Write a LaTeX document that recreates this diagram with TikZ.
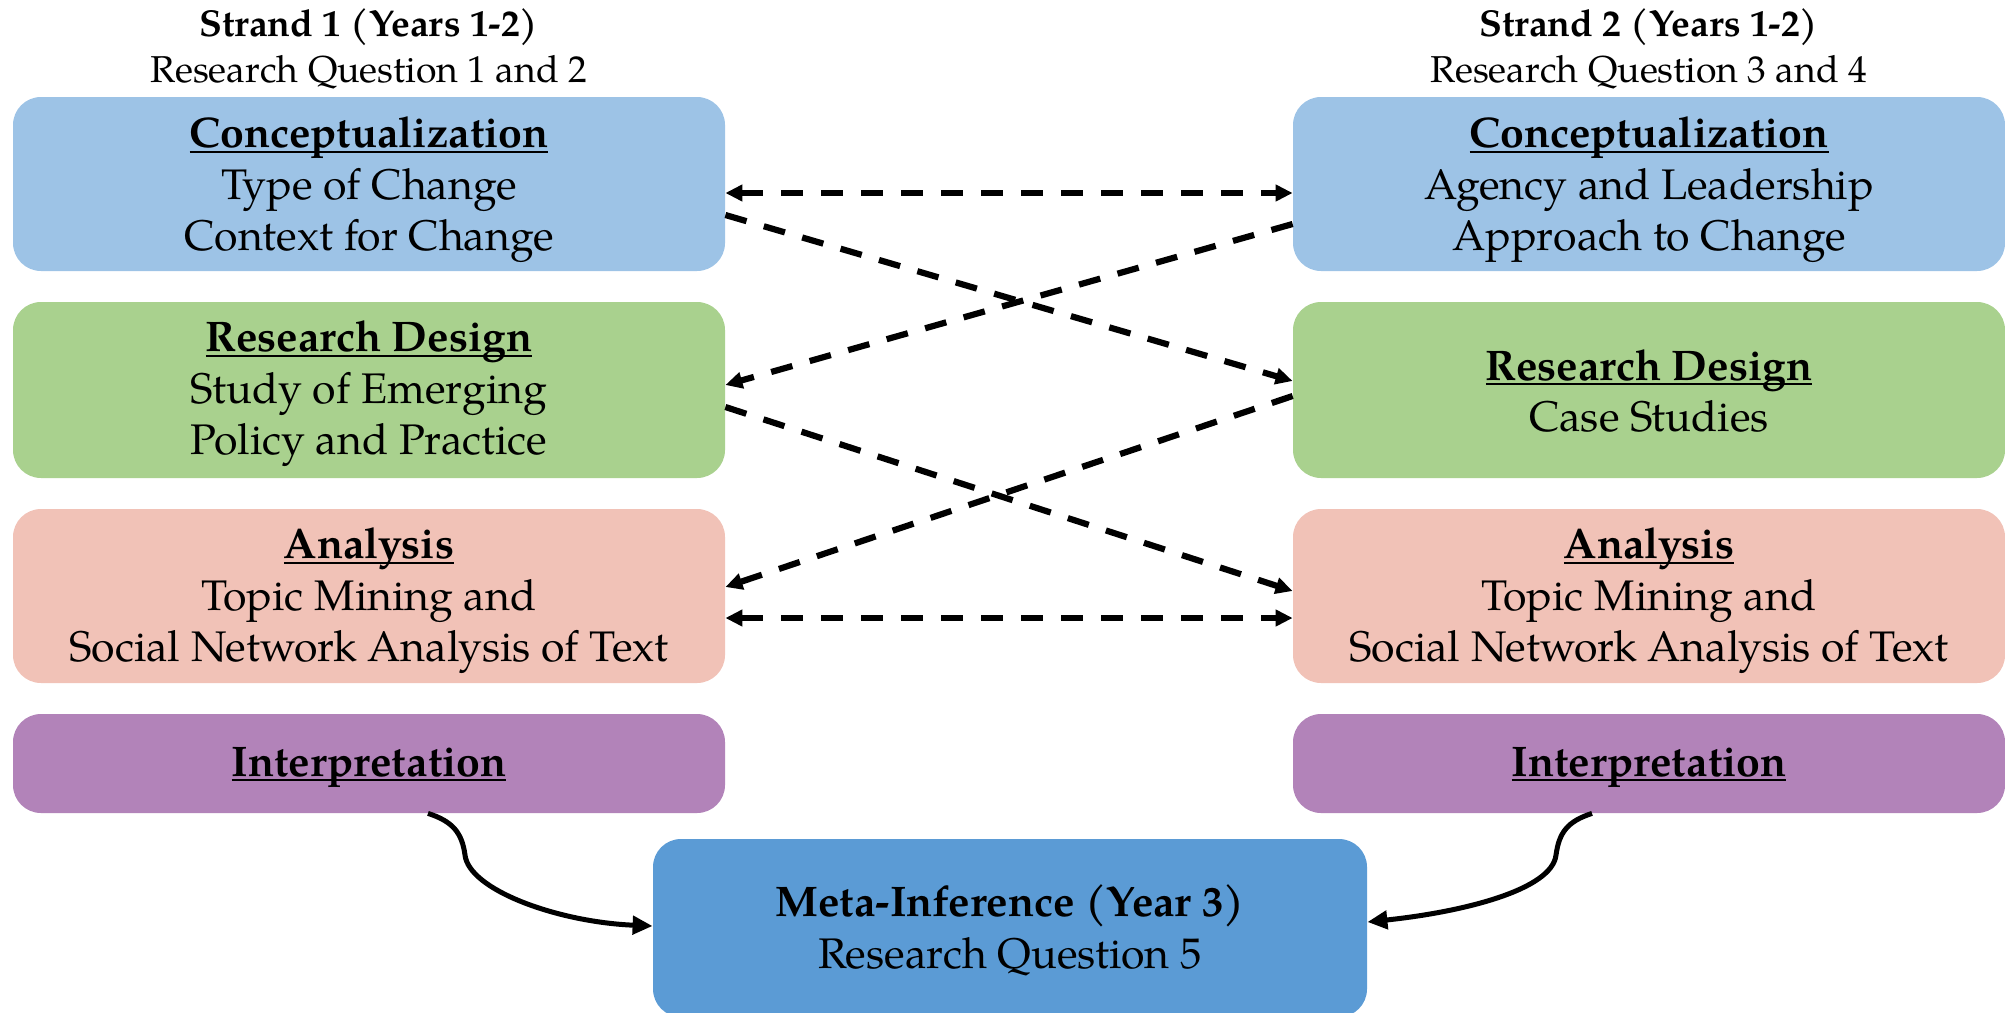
\documentclass[tikz,border=0pt]{standalone}
\usepackage{fontspec}
\setmainfont{texgyrepagella}[Extension=.otf,UprightFont=*-regular,BoldFont=*-bold,ItalicFont=*-italic,BoldItalicFont=*-bolditalic]
\usetikzlibrary{arrows.meta,calc}
\definecolor{cblue}{HTML}{9DC3E6}
\definecolor{cgreen}{HTML}{A9D18E}
\definecolor{cpink}{HTML}{F1C2B7}
\definecolor{cpurple}{HTML}{B283B9}
\definecolor{cmeta}{HTML}{5B9BD5}
\tikzset{
  box/.style={rounded corners=14pt, minimum width=356pt, align=center, inner sep=0pt,
    font=\fontsize{21.4}{25.8}\selectfont},
  hd/.style={font=\fontsize{18.7}{22}\selectfont, align=center, inner sep=0pt},
  dasharrow/.style={line width=3.1pt, dash pattern=on 11pt off 9pt,
    -{Triangle[length=8.5pt,width=8pt]}},
  dashboth/.style={line width=3.1pt, dash pattern=on 11pt off 9pt,
    {Triangle[length=8.5pt,width=8pt]}-{Triangle[length=8.5pt,width=8pt]}},
  curvarrow/.style={line width=2.5pt, -{Triangle[length=10pt,width=9pt]}}
}
\newcommand{\hdg}[1]{{\bfseries\setbox0\hbox{#1}\rlap{\rule[-2.6pt]{\wd0}{1.1pt}}\box0}}
\begin{document}
\begin{tikzpicture}[x=0.5pt,y=-0.5pt]
\useasboundingbox (0,0) rectangle (2005,1012);
\clip (0,0) rectangle (2005,1012);
% strand headings
\node[hd] (s1a) at (369,27) {\textbf{Strand 1 (Years 1-2)}};
\node[hd] (s1b) at (369,72) {Research Question 1 and 2};
\node[hd] (s2a) at (1649,27) {\textbf{Strand 2 (Years 1-2)}};
\node[hd] (s2b) at (1649,72) {Research Question 3 and 4};
% boxes
\node[box, fill=cblue, minimum height=87pt] (L1) at (369,184) {};
\node[box, fill=cblue, minimum height=87pt] (R1) at (1649,184) {};
\node[box, fill=cgreen, minimum height=88pt] (L2) at (369,390) {};
\node[box, fill=cgreen, minimum height=88pt] (R2) at (1649,390) {};
\node[box, fill=cpink, minimum height=87pt] (L3) at (369,596) {};
\node[box, fill=cpink, minimum height=87pt] (R3) at (1649,596) {};
\node[box, fill=cpurple, minimum height=49.5pt] (L4) at (369,763.5) {};
\node[box, fill=cpurple, minimum height=49.5pt] (R4) at (1649,763.5) {};
\node[box, fill=cmeta, minimum width=357pt, minimum height=89pt] (M) at (1010,928) {};
% texts
\node[box, anchor=center] (L1t) at (369,190) {\hdg{Conceptualization}\\Type of Change\\Context for Change};
\node[box, anchor=center] (R1t) at (1649,190) {\hdg{Conceptualization}\\Agency and Leadership\\Approach to Change};
\node[box, anchor=center] (L2t) at (369,394) {\hdg{Research Design}\\Study of Emerging\\Policy and Practice};
\node[box, anchor=center] (R2t) at (1649,391) {\hdg{Research Design}\\Case Studies};
\node[box, anchor=center] (L3t) at (369,601) {\hdg{Analysis}\\Topic Mining and\\Social Network Analysis of Text};
\node[box, anchor=center] (R3t) at (1649,601) {\hdg{Analysis}\\Topic Mining and\\Social Network Analysis of Text};
\node[box, anchor=center] (L4t) at (369,767) {\hdg{Interpretation}};
\node[box, anchor=center] (R4t) at (1649,767) {\hdg{Interpretation}};
\node[box, anchor=center] (Mt) at (1010,930) {\textbf{Meta-Inference (Year 3)}\\Research Question 5};
% dashed connectors
\draw[dashboth] ([yshift=-4.5pt]L1.east) -- ([yshift=-4.5pt]R1.west);
\draw[dasharrow] ([yshift=-15.5pt]L1.east) -- ([yshift=4.5pt]R2.west);
\draw[dasharrow] ([yshift=-20pt]R1.west) -- ([yshift=2.5pt]L2.east);
\draw[dasharrow] ([yshift=-8.5pt]L2.east) -- ([yshift=2.5pt]R3.west);
\draw[dasharrow] ([yshift=-3pt]R2.west) -- ([yshift=4.5pt]L3.east);
\draw[dashboth] ([yshift=-11pt]L3.east) -- ([yshift=-11pt]R3.west);
% curved connectors
\coordinate (lm) at (465,855);
\coordinate (rm) at (1556,855);
\draw[curvarrow] ([xshift=29.5pt]L4.south) .. controls +(25,8) and +(-3,-22) .. (lm)
  .. controls +(4,35) and +(-95,-4) .. ([yshift=1pt]M.west);
\draw[curvarrow] ([xshift=-28.5pt]R4.south) .. controls +(-25,8) and +(3,-22) .. (rm)
  .. controls +(-4,35) and +(95,-10) .. ([yshift=3pt]M.east);
\end{tikzpicture}
\end{document}
